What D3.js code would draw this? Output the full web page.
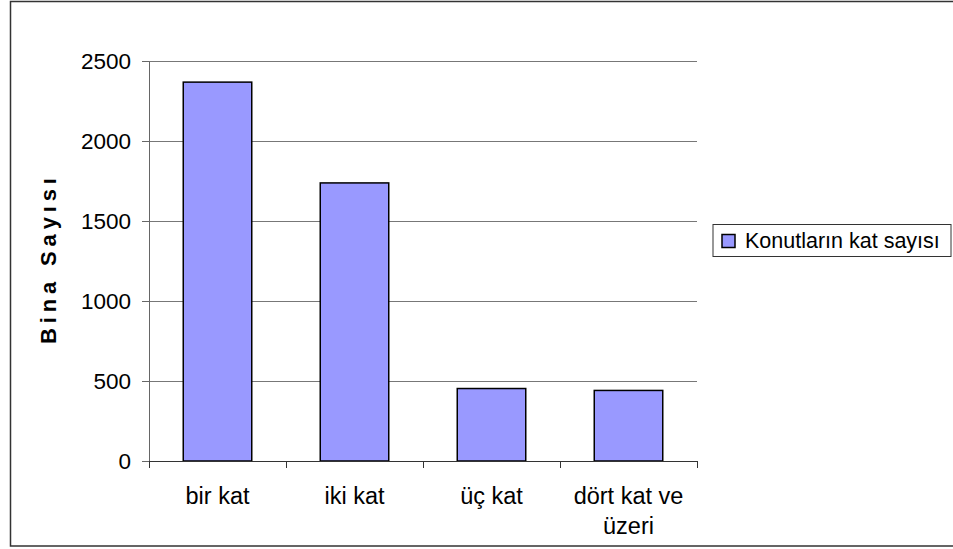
<!DOCTYPE html>
<html>
<meta charset="utf-8">
<style type="text/css">
  body { margin: 0; background: #fff; }
  svg { display: block; font-family: Arial, "Liberation Sans", sans-serif; }
</style>
<body>
<svg width="953" height="549"></svg>
<script src="https://d3js.org/d3.v7.min.js"></script>
<script>

// data
const categories = [["bir kat"], ["iki kat"], ["üç kat"], ["dört kat ve", "üzeri"]];
const values = [2368, 1738, 453, 441];
const yTicks = [0, 500, 1000, 1500, 2000, 2500];
const seriesName = "Konutların kat sayısı";
const yTitle = "Bina Sayısı";

const svg = d3.select('svg');
const margin = {top: 61, left: 149, right: 256, bottom: 88};
const width = +svg.attr('width');
const height = +svg.attr('height');
const innerWidth = width - margin.left - margin.right;
const innerHeight = height - margin.top - margin.bottom;

// outer chart frame (right side is cut off in the original)
svg.append('path')
    .attr('d', `M${width},1.5 H10.5 V546 H${width}`)
    .attr('fill', 'none')
    .attr('stroke', '#333')
    .attr('stroke-width', 1.5);

const g = svg.append('g')
    .attr('transform', `translate(${margin.left},${margin.top})`);

const xScale = d3.scaleBand()
    .domain(d3.range(categories.length))
    .range([0, innerWidth])
    .paddingInner(0.5)
    .paddingOuter(0.25);

const yScale = d3.scaleLinear()
    .domain([0, 2500])
    .range([innerHeight, 0]);

// gridlines
g.selectAll('.grid').data(yTicks.filter(d => d > 0))
  .enter().append('line')
    .attr('class', 'grid')
    .attr('x1', 0).attr('x2', innerWidth)
    .attr('y1', d => yScale(d) + 0.5).attr('y2', d => yScale(d) + 0.5)
    .attr('stroke', '#777')
    .attr('stroke-width', 1);

// bars
g.selectAll('rect').data(values)
  .enter().append('rect')
    .attr('x', (d, i) => xScale(i))
    .attr('y', d => yScale(d))
    .attr('width', xScale.bandwidth())
    .attr('height', d => innerHeight - yScale(d))
    .attr('fill', '#9999ff')
    .attr('stroke', '#000')
    .attr('stroke-width', 1.5);

// y axis
const yAxisG = g.append('g')
    .call(d3.axisLeft(yScale).tickValues(yTicks).tickFormat(d3.format('d'))
      .tickSize(7).tickPadding(11).tickSizeOuter(0));
yAxisG.select('.domain').attr('stroke', '#666');
yAxisG.selectAll('.tick line').attr('stroke', '#666');
yAxisG.selectAll('text')
    .attr('font-size', '22.5px')
    .attr('font-family', 'Arial, "Liberation Sans", sans-serif')
    .attr('fill', '#000')
    .attr('dy', '0.34em');

// x axis: ticks at category boundaries
const bounds = d3.range(categories.length + 1).map(i => i * innerWidth / categories.length);
const xAxisG = g.append('g').attr('transform', `translate(0,${innerHeight})`);
xAxisG.append('line')
    .attr('x1', 0).attr('x2', innerWidth)
    .attr('y1', 0.5).attr('y2', 0.5)
    .attr('stroke', '#333');
xAxisG.selectAll('.xt').data(bounds)
  .enter().append('line')
    .attr('class', 'xt')
    .attr('x1', d => d + 0.5).attr('x2', d => d + 0.5)
    .attr('y1', 0).attr('y2', 7)
    .attr('stroke', '#333');

// category labels, one text per line
const xLines = [];
categories.forEach((c, i) => c.forEach((t, j) => xLines.push({t: t, i: i, j: j})));
xAxisG.selectAll('.xl').data(xLines)
  .enter().append('text')
    .attr('class', 'xl')
    .attr('text-anchor', 'middle')
    .attr('font-size', '23.5px')
    .attr('fill', '#000')
    .attr('x', d => xScale(d.i) + xScale.bandwidth() / 2)
    .attr('y', d => 43 + d.j * 30)
    .text(d => d.t);

// y title
svg.append('text')
    .attr('transform', `translate(56,${margin.top + innerHeight / 2}) rotate(-90)`)
    .attr('text-anchor', 'middle')
    .attr('font-size', '22px')
    .attr('font-weight', 'bold')
    .attr('textLength', 166)
    .attr('lengthAdjust', 'spacing')
    .text(yTitle);

// legend
const legend = svg.append('g').attr('transform', 'translate(713,224.5)');
legend.append('rect')
    .attr('width', 238).attr('height', 32)
    .attr('fill', '#fff')
    .attr('stroke', '#333')
    .attr('stroke-width', 1);
legend.append('rect')
    .attr('x', 9).attr('y', 10)
    .attr('width', 13).attr('height', 13)
    .attr('fill', '#9999ff')
    .attr('stroke', '#000')
    .attr('stroke-width', 1.5);
legend.append('text')
    .attr('x', 32).attr('y', 23)
    .attr('font-size', '21.5px')
    .text(seriesName);

</script>
</body>
</html>
